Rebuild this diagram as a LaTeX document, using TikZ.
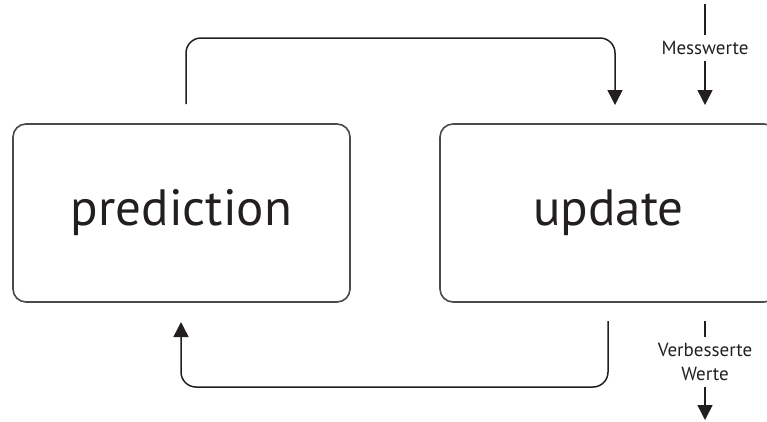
\documentclass[tikz,border=0pt]{standalone}
\usepackage{fontspec}
\setmainfont{PT Sans}
\usetikzlibrary{arrows.meta}
\definecolor{boxgray}{HTML}{4A4A4A}
\definecolor{ink}{HTML}{231F20}
\begin{document}
\begin{tikzpicture}[x=1pt,y=-1pt,
  box/.style={draw=boxgray,line width=1.6pt,rounded corners=13pt,minimum width=337pt,minimum height=178pt,inner sep=0pt,text=ink,font=\fontsize{51}{54}\selectfont},
  conn/.style={draw=ink,line width=1.5pt,rounded corners=15pt,-{Triangle[length=15pt,width=15pt]}},
  plain/.style={draw=ink,line width=1.5pt},
  lbl/.style={font=\fontsize{19}{24}\selectfont,text=ink,align=center,inner xsep=0pt,inner ysep=6pt}]
\useasboundingbox (0,0) rectangle (767,421);
\clip (0,0) rectangle (767,421);
\node[box] (pred) at (181.5,213) {prediction};
\node[box] (upd) at (608.5,213) {update};
% top connector
\coordinate (t0) at (186,104);
\coordinate (t1) at (615,105);
\draw[conn] (t0) -- (186,38) -| (t1);
% bottom connector
\coordinate (b0) at (608,321);
\coordinate (b1) at (181,322);
\draw[conn] (b0) -- (608,387) -| (b1);
% Messwerte
\node[lbl] (mw) at (705,48) {Messwerte};
\coordinate (m0) at (705,4);
\coordinate (m1) at (705,105);
\draw[plain] (m0) -- (mw.north);
\draw[conn] (mw.south) -- (m1);
% Verbesserte Werte
\node[lbl] (vw) at (705,362) {Verbesserte\\Werte};
\coordinate (v0) at (705,321);
\coordinate (v1) at (705,420);
\draw[plain] (v0) -- (vw.north);
\draw[conn] (vw.south) -- (v1);
\end{tikzpicture}
\end{document}
